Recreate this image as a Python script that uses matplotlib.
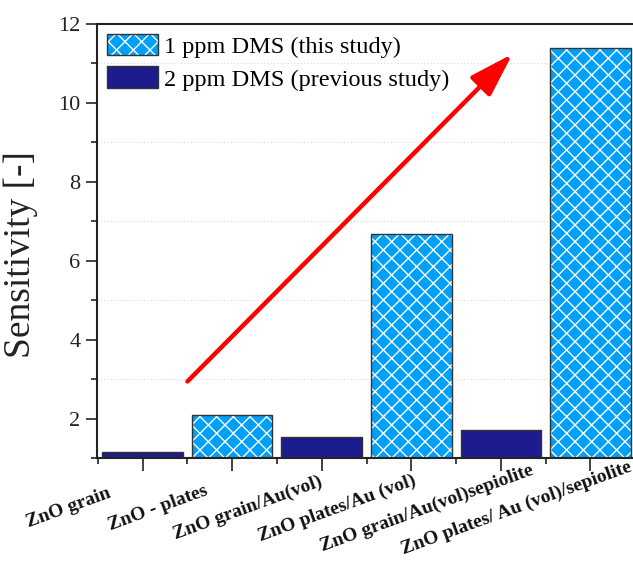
import matplotlib
matplotlib.use("Agg")
import matplotlib.pyplot as plt
import matplotlib.transforms as mtransforms
from matplotlib.patches import Patch
from matplotlib.legend_handler import HandlerTuple
import numpy as np

categories = ["ZnO grain", "ZnO - plates", "ZnO grain/Au(vol)", "ZnO plates/Au (vol)",
              "ZnO grain/Au(vol)sepiolite", "ZnO plates/ Au (vol)/sepiolite"]
sensitivity = [1.15, 2.09, 1.54, 6.67, 1.70, 11.40]
study = ["prev", "this", "prev", "this", "prev", "this"]
legend_labels = ["1 ppm DMS (this study)", "2 ppm DMS (previous study)"]
arrow_start = (0.50, 2.94)
arrow_end = (4.13, 11.24)

light = "#00a0fa"
dark = "#1c1c8e"
edge = "#333333"

plt.rcParams['font.family'] = ['Liberation Serif', 'DejaVu Serif']
plt.rcParams['hatch.linewidth'] = 1.0

fig = plt.figure(figsize=(6.33, 5.63), dpi=100)
ax = fig.add_axes([97/633, (563-458)/563, 539/633, 434/563])

x = np.arange(len(categories))
colors = [light if s == "this" else dark for s in study]
hatches = ["xx" if s == "this" else "" for s in study]
for xi, v, c, h in zip(x, sensitivity, colors, hatches):
    ax.bar(xi, v - 1.0, bottom=1.0, width=0.9, color=c, edgecolor="white" if h else c,
           hatch=h, linewidth=0, zorder=2)
    ax.bar(xi, v - 1.0, bottom=1.0, width=0.9, fill=False, edgecolor=edge, linewidth=1.0, zorder=3)

ax.set_xlim(-0.51, 5.51)
ax.set_ylim(1.0, 12.0)
ax.set_yticks([2, 4, 6, 8, 10, 12])
ax.set_yticks([1, 3, 5, 7, 9, 11], minor=True)
ax.set_xticks(x)
ax.set_xticks(np.arange(-0.5, 6.0, 1.0), minor=True)
ax.set_xticklabels([])

offset = mtransforms.ScaledTranslation(-0.74, -0.50, fig.dpi_scale_trans)
trans = ax.get_xaxis_transform() + offset
for xi, lab in zip(x, categories):
    ax.text(xi, 0, lab, transform=trans, fontsize=14, fontweight="bold", rotation=20,
            ha="center", va="center", rotation_mode="anchor", color="#111111",
            clip_on=False)

ax.tick_params(axis="y", which="major", direction="out", length=8, width=1.2, labelsize=16, pad=4, colors="#222222")
ax.tick_params(axis="y", which="minor", direction="out", length=4, width=1.2, colors="#222222")
ax.tick_params(axis="x", which="major", direction="out", length=9, width=1.2, colors="#222222")
ax.tick_params(axis="x", which="minor", direction="out", length=4.5, width=1.2, colors="#222222")

ax.grid(axis="y", which="minor", linestyle=(0, (1, 2)), color="#d8d8d8", linewidth=0.8, zorder=0)
ax.set_axisbelow(True)
for s in ["left", "bottom", "top", "right"]:
    ax.spines[s].set_linewidth(1.5)
    ax.spines[s].set_color("#222222")

ax.set_ylabel("Sensitivity [-]", fontsize=27, color="#222222")
ax.yaxis.set_label_coords(-0.109, 0.468)

ax.annotate("", xy=arrow_end, xytext=arrow_start,
            arrowprops=dict(arrowstyle="-|>,head_length=2.7,head_width=0.85",
                            mutation_scale=10, lw=3.2, color="#ff0000",
                            shrinkA=0, shrinkB=0), zorder=5)

h1 = (Patch(facecolor=light, edgecolor="white", hatch="xx", linewidth=0),
      Patch(fill=False, edgecolor=edge, linewidth=1.0))
h2 = (Patch(facecolor=dark, edgecolor=dark, linewidth=0),
      Patch(fill=False, edgecolor=edge, linewidth=1.0))
ax.legend([h1, h2], legend_labels, handler_map={tuple: HandlerTuple(ndivide=1)},
          loc="upper left", frameon=False, fontsize=17.5, handlelength=2.1,
          handleheight=1.0, handletextpad=0.25, labelspacing=0.35,
          borderaxespad=0.2, borderpad=0.2)

fig.savefig("out.png", dpi=100)
